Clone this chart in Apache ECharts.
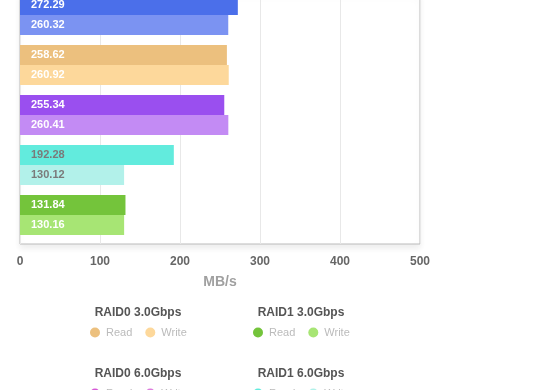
<!DOCTYPE html>
<html>
<head>
<meta charset="utf-8">
<script src="https://cdn.jsdelivr.net/npm/echarts@6/dist/echarts.min.js"></script>
<style>
html,body{margin:0;padding:0;background:#fff;overflow:hidden;width:560px;height:390px;}
#chart{position:absolute;left:0;top:-200px;width:560px;height:650px;}
</style>
</head>
<body>
<div id="chart"></div>
<script>
// Bar categories, top to bottom (visible part of the chart)
const categories = ['RAID5 6.0Gbps', 'RAID0 3.0Gbps', 'RAID5 3.0Gbps', 'RAID1 6.0Gbps', 'RAID1 3.0Gbps'];
const readValues  = [272.29, 258.62, 255.34, 192.28, 131.84];
const writeValues = [260.32, 260.92, 260.41, 130.12, 130.16];
// Legend groups (in legend order)
const legendGroups = ['RAID0 3.0Gbps', 'RAID1 3.0Gbps', 'RAID0 6.0Gbps', 'RAID1 6.0Gbps', 'RAID5 3.0Gbps', 'RAID5 6.0Gbps'];
const readColors  = {'RAID0 3.0Gbps':'#ecc07e','RAID1 3.0Gbps':'#74c43b','RAID0 6.0Gbps':'#d65ad6','RAID1 6.0Gbps':'#62ebdd','RAID5 3.0Gbps':'#9a4fef','RAID5 6.0Gbps':'#4b6fea'};
const writeColors = {'RAID0 3.0Gbps':'#fdd89b','RAID1 3.0Gbps':'#a7e574','RAID0 6.0Gbps':'#dd7ddd','RAID1 6.0Gbps':'#b2f1ea','RAID5 3.0Gbps':'#c38bf4','RAID5 6.0Gbps':'#7b93f2'};
const labelColors = {'RAID1 6.0Gbps':'#7a7a7a'};
const xTicks = [0, 500, 100];

const FONT = '"Liberation Sans", Arial, Helvetica, sans-serif';
const OFF = 200; // chart div offset above the viewport

const series = [];
legendGroups.forEach(g => {
  ['Read', 'Write'].forEach(kind => {
    const vals = kind === 'Read' ? readValues : writeValues;
    series.push({
      type: 'bar',
      name: g + ' ' + kind,
      stack: kind,
      barWidth: 20,
      barGap: '0%',
      itemStyle: { color: kind === 'Read' ? readColors[g] : writeColors[g] },
      label: {
        show: true, position: 'insideLeft', distance: 11,
        color: labelColors[g] || '#fff', fontSize: 11, fontWeight: 'bold', fontFamily: FONT
      },
      data: categories.map((c, i) => c === g ? vals[i] : '-')
    });
  });
});
// empty spacer slot below each pair of bars
series.push({ type: 'bar', name: 'spacer', stack: 'spacer', barWidth: 8, barGap: '0%', silent: true,
  data: categories.map(() => '-') });

const titles = [], legends = [];
legendGroups.forEach((g, i) => {
  const col = i % 2, row = Math.floor(i / 2);
  const cx = col === 0 ? 138 : 301;
  titles.push({
    text: g, left: cx, textAlign: 'center', top: 307 + row * 61 + OFF, padding: 0,
    textStyle: { fontSize: 12, fontWeight: 'bold', color: '#555', fontFamily: FONT }
  });
  legends.push({
    data: [g + ' Read', g + ' Write'],
    left: col === 0 ? 90 : 253, top: 327 + row * 61 + OFF, padding: 0,
    icon: 'circle', itemWidth: 10, itemHeight: 10, itemGap: 13,
    selectedMode: false,
    formatter: n => n.endsWith('Read') ? 'Read' : 'Write',
    textStyle: { color: '#bbb', fontSize: 11, fontFamily: FONT, padding: [0, 0, 0, 1] }
  });
});

const chart = echarts.init(document.getElementById('chart'), null, { renderer: 'canvas' });
chart.setOption({
  animation: false,
  backgroundColor: '#fff',
  title: titles,
  legend: legends,
  grid: {
    left: 20, width: 400, top: 244 - 250 + OFF, height: 250,
    show: true, backgroundColor: '#fff', borderColor: '#bbb', borderWidth: 1,
    shadowColor: 'rgba(0,0,0,0.07)', shadowBlur: 6, shadowOffsetY: 4
  },
  xAxis: {
    type: 'value', min: xTicks[0], max: xTicks[1], interval: xTicks[2],
    name: 'MB/s', nameLocation: 'middle', nameGap: 31,
    nameTextStyle: { color: '#a0a0a0', fontSize: 14, fontWeight: 'bold', fontFamily: FONT },
    axisLine: { show: false }, axisTick: { show: false },
    axisLabel: { color: '#666', fontSize: 12, fontWeight: 'bold', margin: 12, fontFamily: FONT },
    splitLine: { lineStyle: { color: '#e8e8e8' } }
  },
  yAxis: {
    type: 'category', inverse: true, data: categories,
    axisLine: { show: false }, axisTick: { show: false }, axisLabel: { show: false },
    splitLine: { show: false }
  },
  series: series
});
</script>
</body>
</html>
